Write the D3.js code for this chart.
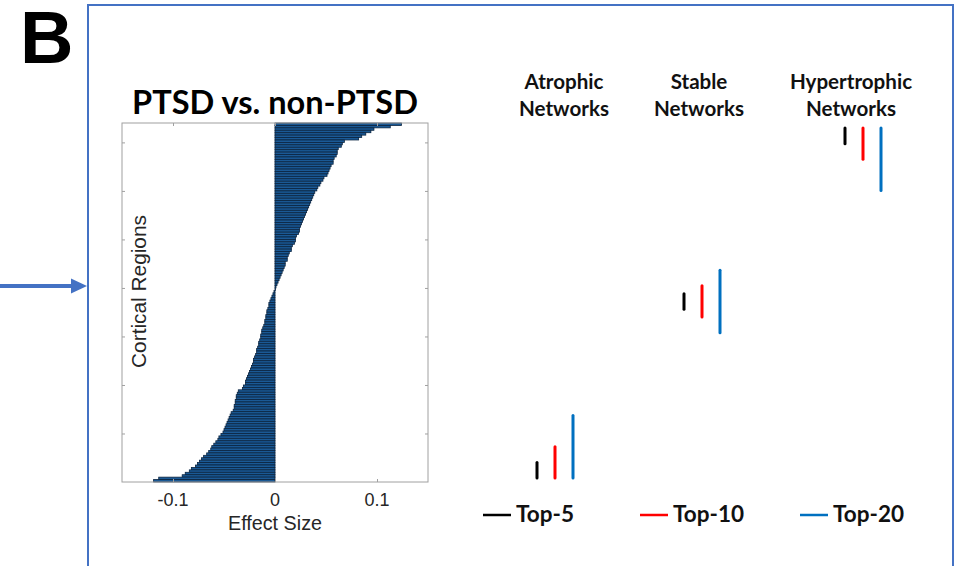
<!DOCTYPE html>
<html>
<head>
<meta charset="utf-8">
<script src="https://cdn.jsdelivr.net/npm/d3@7"></script>
<style>
  html, body { margin: 0; padding: 0; background: #fff; }
  svg { display: block; }
</style>
</head>
<body>
<svg id="fig" width="960" height="566"></svg>
<script>
// Effect size per cortical region (PTSD vs. non-PTSD), sorted from largest (top) to smallest (bottom)
const effectSizes = [
  0.124, 0.113, 0.097, 0.094, 0.089, 0.085, 0.082, 0.068, 0.066, 0.065,
  0.062, 0.061, 0.061, 0.060, 0.058, 0.057, 0.057, 0.055, 0.054, 0.053,
  0.052, 0.051, 0.048, 0.047, 0.045, 0.044, 0.042, 0.041, 0.039, 0.038,
  0.037, 0.036, 0.035, 0.034, 0.033, 0.032, 0.031, 0.030, 0.029, 0.028,
  0.027, 0.026, 0.025, 0.024, 0.024, 0.023, 0.021, 0.020, 0.020, 0.019,
  0.017, 0.016, 0.016, 0.014, 0.013, 0.012, 0.012, 0.010, 0.010, 0.009,
  0.008, 0.007, 0.006, 0.005, 0.004, 0.003, 0.002, 0.001, 0.0005, -0.001,
  -0.002, -0.003, -0.004, -0.005, -0.006, -0.006, -0.007, -0.008, -0.008, -0.009,
  -0.009, -0.010, -0.010, -0.011, -0.012, -0.013, -0.013, -0.014, -0.014, -0.015,
  -0.016, -0.016, -0.017, -0.018, -0.018, -0.019, -0.020, -0.021, -0.021, -0.022,
  -0.023, -0.024, -0.025, -0.026, -0.027, -0.028, -0.029, -0.029, -0.031, -0.032,
  -0.036, -0.037, -0.038, -0.038, -0.039, -0.039, -0.040, -0.040, -0.041, -0.043,
  -0.044, -0.045, -0.046, -0.047, -0.048, -0.049, -0.050, -0.051, -0.053, -0.055,
  -0.056, -0.058, -0.060, -0.062, -0.063, -0.065, -0.067, -0.070, -0.072, -0.074,
  -0.076, -0.078, -0.082, -0.084, -0.088, -0.091, -0.114, -0.119
];
const xTickValues = [-0.1, 0, 0.1];
const xTickLabels = ["-0.1", "0", "0.1"];
const yTickValues = [20, 40, 60, 80, 100, 120, 140];

// Network groups and the rank spans covered by the Top-N regions
const networkGroups = ["Atrophic", "Stable", "Hypertrophic"];
const networkHeaders = [["Atrophic", "Networks"], ["Stable", "Networks"], ["Hypertrophic", "Networks"]];
const topSizes = ["Top-5", "Top-10", "Top-20"];
const topColors = ["#000000", "#ff0000", "#0070c0"];
const atrophicSpan = [[0, 5], [0, 10], [0, 20]];
const stableSpan = [[54, 59], [51.5, 61.5], [46.5, 66.5]];
const hypertrophicSpan = [[107, 112], [102, 112], [92, 112]];
const groupSpans = [atrophicSpan, stableSpan, hypertrophicSpan];

const svg = d3.select("#fig");
const frameBlue = "#4472c4";

// scale text so it spans a given width
function fitWidth(sel, w) {
  const len = sel.node().getComputedTextLength();
  const fs = parseFloat(sel.attr("font-size"));
  sel.attr("font-size", (fs * w / len).toFixed(2));
  return sel;
}

// ---- panel letter, frame and arrow ----
svg.append("text").attr("x", 20).attr("y", 63)
  .attr("font-family", "Liberation Sans, Arial, sans-serif").attr("font-weight", "bold")
  .attr("font-size", 74).text("B");

svg.append("rect").attr("x", 88).attr("y", 5).attr("width", 865).attr("height", 620)
  .attr("fill", "none").attr("stroke", frameBlue).attr("stroke-width", 2);

svg.append("line").attr("x1", 0).attr("x2", 74).attr("y1", 286).attr("y2", 286)
  .attr("stroke", frameBlue).attr("stroke-width", 4);
svg.append("path").attr("d", "M71,278.5 L87,286 L71,293.5 Z").attr("fill", frameBlue);

// ---- effect size bar chart ----
const plot = { left: 122, right: 428, top: 123, bottom: 482 };
const x = d3.scaleLinear().domain([-0.15, 0.15]).range([plot.left, plot.right]);
const y = d3.scaleLinear().domain([0, effectSizes.length]).range([plot.bottom, plot.top]);
const n = effectSizes.length;

const g = svg.append("g");
g.selectAll("rect.bar").data(effectSizes).join("rect")
  .attr("class", "bar")
  .attr("x", d => x(Math.min(0, d)))
  .attr("width", d => Math.abs(x(d) - x(0)))
  .attr("y", (d, i) => y(n - i))
  .attr("height", (d, i) => y(n - i - 1) - y(n - i))
  .attr("fill", "#1a5995")
  .attr("stroke", "#0a2440")
  .attr("stroke-width", 0.8);

const axisGrey = "#a0a0a0";
const tickLen = 3;
// bottom / top ticks
g.append("g").attr("transform", `translate(0,${plot.bottom})`)
  .call(d3.axisBottom(x).tickValues(xTickValues).tickSize(-tickLen).tickFormat(""))
  .call(a => a.select(".domain").remove())
  .call(a => a.selectAll("line").attr("stroke", axisGrey));
g.append("g").attr("transform", `translate(0,${plot.top})`)
  .call(d3.axisTop(x).tickValues(xTickValues).tickSize(-tickLen).tickFormat(""))
  .call(a => a.select(".domain").remove())
  .call(a => a.selectAll("line").attr("stroke", axisGrey));
// left / right ticks
g.append("g").attr("transform", `translate(${plot.left},0)`)
  .call(d3.axisLeft(y).tickValues(yTickValues).tickSize(-tickLen).tickFormat(""))
  .call(a => a.select(".domain").remove())
  .call(a => a.selectAll("line").attr("stroke", axisGrey));
g.append("g").attr("transform", `translate(${plot.right},0)`)
  .call(d3.axisRight(y).tickValues(yTickValues).tickSize(-tickLen).tickFormat(""))
  .call(a => a.select(".domain").remove())
  .call(a => a.selectAll("line").attr("stroke", axisGrey));

g.append("rect").attr("x", plot.left).attr("y", plot.top)
  .attr("width", plot.right - plot.left).attr("height", plot.bottom - plot.top)
  .attr("fill", "none").attr("stroke", axisGrey).attr("stroke-width", 1);

// tick labels
g.selectAll("text.xtl").data(xTickValues).join("text")
  .attr("class", "xtl")
  .attr("x", d => x(d)).attr("y", 506)
  .attr("text-anchor", "middle")
  .attr("font-family", "Liberation Sans, Arial, sans-serif")
  .attr("font-size", 18).attr("fill", "#262626")
  .text((d, i) => xTickLabels[i]);

fitWidth(g.append("text").attr("x", x(0)).attr("y", 530)
  .attr("text-anchor", "middle")
  .attr("font-family", "Liberation Sans, Arial, sans-serif")
  .attr("font-size", 18).attr("fill", "#262626")
  .text("Effect Size"), 94);

fitWidth(g.append("text")
  .attr("transform", `translate(146,${(215 + 368) / 2}) rotate(-90)`)
  .attr("text-anchor", "middle")
  .attr("font-family", "Liberation Sans, Arial, sans-serif")
  .attr("font-size", 20).attr("fill", "#262626")
  .text("Cortical Regions"), 153);

fitWidth(g.append("text").attr("x", (132 + 418) / 2).attr("y", 114)
  .attr("text-anchor", "middle")
  .attr("font-family", "Lato, 'Open Sans', sans-serif").attr("font-weight", "bold")
  .attr("font-size", 29).attr("fill", "#000")
  .text("PTSD vs. non-PTSD"), 286);

// ---- Top-N network spans ----
const ny = d3.scaleLinear().domain([0, 112]).range([478, 128]);
const clusterX = d3.scaleOrdinal().domain(networkGroups).range([555, 702, 863]);
const headerX = d3.scaleOrdinal().domain(networkGroups).range([564, 699, 851]);
const subX = d3.scalePoint().domain(topSizes).range([-18, 18]);

const segs = [];
networkGroups.forEach((grp, gi) => {
  topSizes.forEach((t, ti) => {
    segs.push({ grp, t, color: topColors[ti], lo: groupSpans[gi][ti][0], hi: groupSpans[gi][ti][1] });
  });
});
svg.selectAll("line.seg").data(segs).join("line")
  .attr("class", "seg")
  .attr("x1", d => clusterX(d.grp) + subX(d.t))
  .attr("x2", d => clusterX(d.grp) + subX(d.t))
  .attr("y1", d => ny(d.hi)).attr("y2", d => ny(d.lo))
  .attr("stroke", d => d.color).attr("stroke-width", 3)
  .attr("stroke-linecap", "round");

// column headers
const hdrFont = "Lato, 'Open Sans', sans-serif";
const probe = svg.append("text").attr("font-family", hdrFont).attr("font-weight", "bold")
  .attr("font-size", 20).text("Networks");
fitWidth(probe, 90);
const hdrSize = probe.attr("font-size");
probe.remove();
networkGroups.forEach((grp, gi) => {
  networkHeaders[gi].forEach((line, li) => {
    svg.append("text")
      .attr("x", headerX(grp)).attr("y", li === 0 ? 89 : 116)
      .attr("text-anchor", "middle")
      .attr("font-family", hdrFont).attr("font-weight", "bold")
      .attr("font-size", hdrSize).attr("fill", "#111")
      .text(line);
  });
});

// legend
const legendX = d3.scaleOrdinal().domain(topSizes).range([483, 640, 800]);
const leg = svg.selectAll("g.leg").data(topSizes).join("g")
  .attr("class", "leg")
  .attr("transform", d => `translate(${legendX(d)},515)`);
leg.append("line").attr("x1", 0).attr("x2", 28).attr("y1", 0).attr("y2", 0)
  .attr("stroke", (d, i) => topColors[i]).attr("stroke-width", 2.5);
const legProbe = svg.append("text").attr("font-family", hdrFont).attr("font-weight", "bold")
  .attr("font-size", 20).text("Top-5");
fitWidth(legProbe, 58);
const legSize = legProbe.attr("font-size");
legProbe.remove();
leg.append("text").attr("x", 33).attr("y", 7)
  .attr("font-family", hdrFont).attr("font-weight", "bold")
  .attr("font-size", legSize).attr("fill", "#111")
  .text(d => d);
</script>
</body>
</html>
